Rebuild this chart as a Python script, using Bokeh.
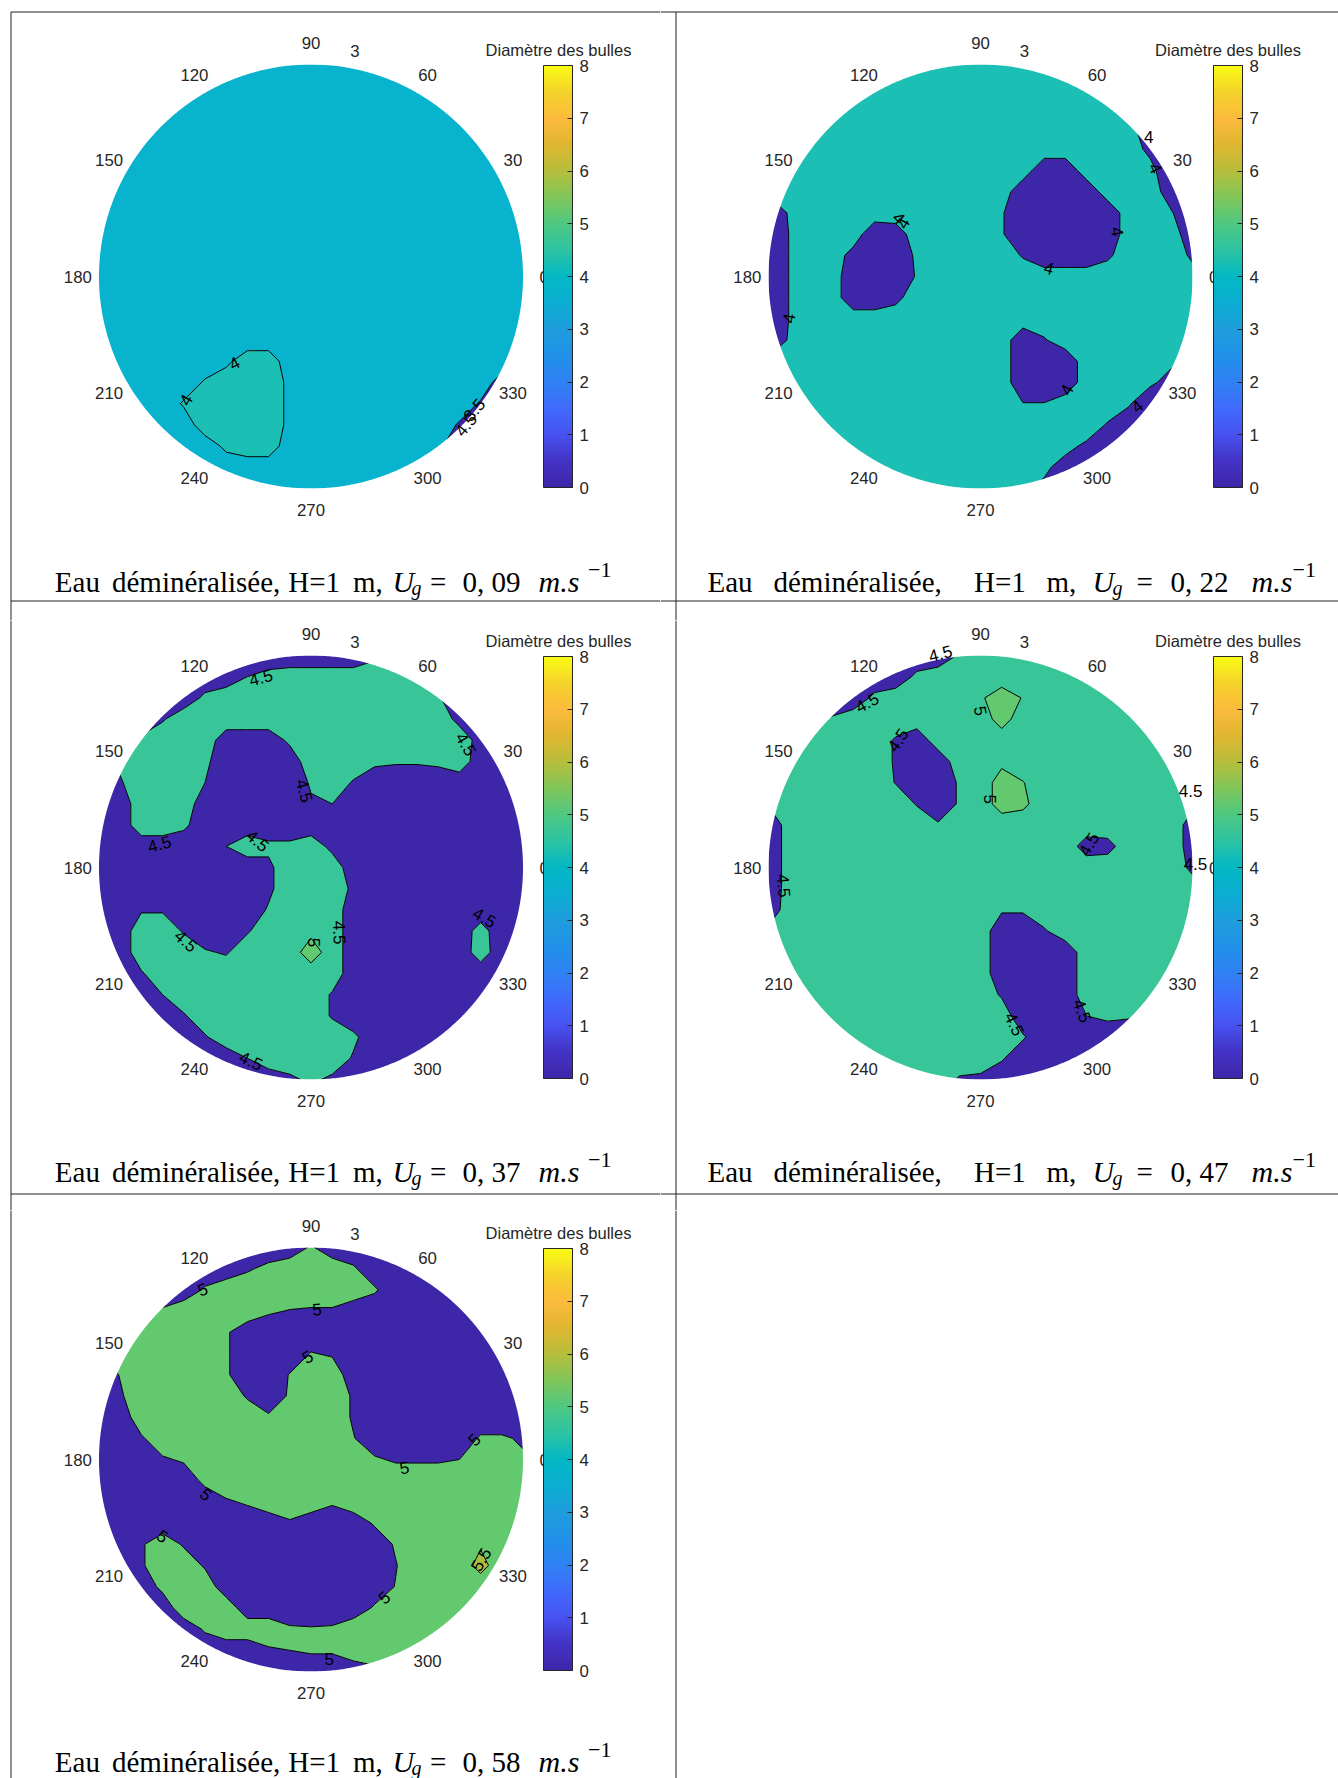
import numpy as np
from bokeh.plotting import figure
from bokeh.layouts import column, row
from bokeh.models import Range1d, ColorBar, LinearColorMapper, FixedTicker
from bokeh.core.properties import value
from bokeh.embed import file_html
from bokeh.resources import INLINE

# ------------------------------------------------------------------ data
GRID = [-1.0, -0.9, -0.8, -0.7, -0.6, -0.5, -0.4, -0.3, -0.2, -0.1, 0.0,
        0.1, 0.2, 0.3, 0.4, 0.5, 0.6, 0.7, 0.8, 0.9, 1.0]
ANGLE_TICKS = [0, 30, 60, 90, 120, 150, 180, 210, 240, 270, 300, 330]
RHO_LABEL = "3"
CBAR_TICKS = [0, 1, 2, 3, 4, 5, 6, 7, 8]
CBAR_TITLE = "Diamètre des bulles"
UG_VALUES = ["0, 09", "0, 22", "0, 37", "0, 47", "0, 58"]

# bubble diameter read on a grid (rows from y=+1 down to y=-1, columns x=-1..+1)
a, b = 3.75, 4.25
Z1 = [
 [a,a,a,a,a,a,a,a,a,a,a,a,a,a,a,a,a,a,a,a,a],
 [a,a,a,a,a,a,a,a,a,a,a,a,a,a,a,a,a,a,a,a,a],
 [a,a,a,a,a,a,a,a,a,a,a,a,a,a,a,a,a,a,a,a,a],
 [a,a,a,a,a,a,a,a,a,a,a,a,a,a,a,a,a,a,a,a,a],
 [a,a,a,a,a,a,a,a,a,a,a,a,a,a,a,a,a,a,a,a,a],
 [a,a,a,a,a,a,a,a,a,a,a,a,a,a,a,a,a,a,a,a,a],
 [a,a,a,a,a,a,a,a,a,a,a,a,a,a,a,a,a,a,a,a,a],
 [a,a,a,a,a,a,a,a,a,a,a,a,a,a,a,a,a,a,a,a,a],
 [a,a,a,a,a,a,a,a,a,a,a,a,a,a,a,a,a,a,a,a,a],
 [a,a,a,a,a,a,a,a,a,a,a,a,a,a,a,a,a,a,a,a,a],
 [a,a,a,a,a,a,a,a,a,a,a,a,a,a,a,a,a,a,a,a,a],
 [a,a,a,a,a,a,a,a,a,a,a,a,a,a,a,a,a,a,a,a,a],
 [a,a,a,a,a,a,a,a,a,a,a,a,a,a,a,a,a,a,a,a,a],
 [a,a,a,a,a,a,a,a,a,a,a,a,a,a,a,a,a,a,a,a,a],
 [a,a,a,a,a,a,3.9,b,b,a,a,a,a,a,a,a,a,a,a,a,a],
 [a,a,a,a,a,4.05,b,b,b,3.9,a,a,a,a,a,a,a,a,a,3.3,a],
 [a,a,a,a,4.05,b,b,b,b,3.9,a,a,a,a,a,a,a,a,3.45,3.0,a],
 [a,a,a,a,a,b,b,b,b,3.9,a,a,a,a,a,a,a,3.45,3.0,a,a],
 [a,a,a,a,a,a,4.1,b,b,a,a,a,a,a,a,a,3.6,3.2,a,a,a],
 [a,a,a,a,a,a,a,a,a,a,a,a,a,a,a,a,a,a,a,a,a],
 [a,a,a,a,a,a,a,a,a,a,a,a,a,a,a,a,a,a,a,a,a],
]

t, d = 4.3, 3.6
Z2 = [
 [t,t,t,t,t,t,t,t,t,t,t,t,t,t,t,t,t,t,t,t,t],
 [t,t,t,t,t,t,t,t,t,t,t,t,t,t,t,t,t,t,t,t,t],
 [t,t,t,t,t,t,t,t,t,t,t,t,t,t,t,t,t,4.1,4.0,3.9,d],
 [t,t,t,t,t,t,t,t,t,t,t,t,t,t,t,t,t,4.2,d,d,d],
 [t,t,t,t,t,t,t,t,t,t,t,t,t,t,t,t,t,t,3.85,3.5,3.5],
 [t,t,t,t,t,t,t,t,t,t,t,t,t,d,d,t,t,t,4.2,3.5,3.5],
 [t,t,t,t,t,t,t,t,t,t,t,t,d,d,d,d,t,t,t,3.7,3.5],
 [3.0,4.15,t,t,t,t,t,t,t,t,t,4.05,d,d,d,d,d,t,t,4.05,3.5],
 [3.0,4.05,t,t,t,d,3.7,t,t,t,t,4.05,d,d,d,d,d,t,t,t,3.6],
 [3.0,4.05,t,t,3.8,d,d,4.1,t,t,t,t,3.95,d,d,d,3.9,t,t,t,3.9],
 [3.0,4.05,t,t,d,d,d,4.05,t,t,t,t,t,t,t,t,t,t,t,t,4.2],
 [3.0,4.05,t,t,d,d,3.85,t,t,t,t,t,t,t,t,t,t,t,t,t,t],
 [3.0,4.05,t,t,t,t,t,t,t,t,t,t,t,t,t,t,t,t,t,t,t],
 [3.0,4.15,t,t,t,t,t,t,t,t,t,t,d,3.95,t,t,t,t,t,t,t],
 [t,t,t,t,t,t,t,t,t,t,t,t,d,d,d,t,t,t,t,4.1,4.1],
 [t,t,t,t,t,t,t,t,t,t,t,t,d,d,d,t,t,t,4.1,3.8,3.6],
 [t,t,t,t,t,t,t,t,t,t,t,t,4.02,4.02,t,t,t,4.05,d,d,d],
 [t,t,t,t,t,t,t,t,t,t,t,t,t,t,t,t,3.95,3.7,d,d,d],
 [t,t,t,t,t,t,t,t,t,t,t,t,t,t,4.15,3.9,d,d,d,d,d],
 [t,t,t,t,t,t,t,t,t,t,t,t,t,4.1,3.8,d,d,d,d,d,d],
 [t,t,t,t,t,t,t,t,t,t,t,t,4.05,3.9,d,d,d,d,d,d,d],
]

d, g = 4.2, 4.8
Z3 = [
 [d,d,d,d,d,d,d,4.1,4.1,4.1,4.1,4.1,4.1,4.4,g,g,4.6,d,d,d,d],
 [d,d,d,d,d,d,d,4.5,4.7,g,g,g,g,g,g,g,g,4.5,d,d,d],
 [d,d,d,d,d,4.6,g,g,g,g,g,g,g,g,g,g,4.55,d,d,d,d],
 [d,d,d,4.45,g,g,g,g,g,g,g,g,g,g,g,g,g,4.35,d,d,d],
 [d,4.6,4.6,g,g,g,d,d,d,4.6,g,g,g,g,g,g,g,g,4.3,d,d],
 [d,4.6,g,g,g,4.6,d,d,d,d,g,g,g,4.6,4.55,4.55,4.6,g,d,d,d],
 [d,4.45,g,g,g,4.5,d,d,d,d,4.55,g,4.45,d,d,d,d,d,d,d,d],
 [d,d,g,g,g,d,d,d,d,d,4.45,4.5,d,d,d,d,d,d,d,d,d],
 [d,d,g,g,4.6,d,d,d,d,d,d,d,d,d,d,d,d,d,d,d,d],
 [d,d,d,d,d,d,4.5,g,4.6,4.6,g,4.35,d,d,d,d,d,d,d,d,d],
 [d,d,d,d,d,d,d,d,4.4,g,g,g,d,d,d,d,d,d,d,d,d],
 [d,d,d,d,d,d,d,d,4.4,g,g,g,4.4,d,d,d,d,d,d,d,d],
 [d,d,4.45,4.45,d,d,d,d,4.55,g,g,g,d,d,d,d,d,d,d,d,d],
 [d,d,g,g,4.45,d,d,4.45,g,g,4.9,g,d,d,d,d,d,d,4.7,d,d],
 [d,d,g,g,g,4.55,4.45,g,g,g,5.2,g,d,d,d,d,d,d,4.75,d,d],
 [d,d,4.45,g,g,g,g,g,g,g,g,g,d,d,d,d,d,d,d,d,d],
 [d,d,d,4.5,g,g,g,g,g,g,g,4.45,d,d,d,d,d,d,d,d,d],
 [d,d,d,d,4.45,g,g,g,g,g,g,4.45,d,d,d,d,d,d,d,d,d],
 [d,d,d,d,d,4.45,g,g,g,g,g,g,4.6,d,d,d,d,d,d,d,d],
 [d,d,d,d,d,d,d,4.5,g,g,g,g,4.45,d,d,d,d,d,d,d,d],
 [d,d,d,d,d,d,d,d,d,4.4,4.6,4.4,d,d,d,d,d,d,d,d,d],
]

t, d, g = 4.75, 4.2, 5.2
Z4 = [
 [d,d,d,d,d,d,d,d,d,4.55,t,t,t,t,t,t,t,t,t,t,t],
 [d,d,d,d,d,d,d,4.6,t,t,t,4.8,t,t,t,t,t,t,t,t,t],
 [4.6,4.6,4.5,d,d,4.6,t,t,t,t,4.95,g,4.98,t,t,t,t,t,t,t,t],
 [t,t,4.5,4.55,t,t,t,t,t,t,t,g,t,t,t,t,t,t,t,t,t],
 [t,t,t,t,t,t,4.45,d,t,t,t,t,t,t,t,t,t,t,t,t,t],
 [t,t,t,t,t,t,4.45,d,d,t,t,4.9,t,t,t,t,t,t,t,t,t],
 [t,t,t,t,t,t,4.48,d,d,4.55,t,g,5.02,t,t,t,t,t,t,t,t],
 [4.55,t,t,t,t,t,t,4.47,d,4.55,t,g,5.1,t,t,t,t,t,t,t,4.6],
 [4.1,t,t,t,t,t,t,t,4.55,t,t,t,t,t,t,t,t,t,t,t,4.3],
 [4.1,t,t,t,t,t,t,t,t,t,t,t,t,t,t,4.3,4.35,t,t,t,4.3],
 [4.1,t,t,t,t,t,t,t,t,t,t,t,t,t,t,t,t,t,t,t,4.4],
 [4.1,t,t,t,t,t,t,t,t,t,t,t,t,t,t,t,t,t,t,t,4.7],
 [4.2,t,t,t,t,t,t,t,t,t,t,4.55,4.55,t,t,t,t,t,t,t,t],
 [4.6,t,t,t,t,t,t,t,t,t,t,d,d,4.45,t,t,t,t,t,t,t],
 [t,t,t,t,t,t,t,t,t,t,t,d,d,d,d,t,t,t,t,t,t],
 [t,t,t,t,t,t,t,t,t,t,t,d,d,d,d,t,t,t,t,t,t],
 [t,t,t,t,t,t,t,t,t,t,t,4.45,d,d,d,t,t,t,t,t,t],
 [t,t,t,t,t,t,t,t,t,t,t,t,d,d,d,4.5,4.6,4.55,t,t,t],
 [t,t,t,t,t,t,t,t,t,t,t,t,4.55,d,d,d,d,d,4.5,t,t],
 [t,t,t,t,t,t,t,t,t,t,t,4.55,d,d,d,d,d,d,d,4.5,t],
 [t,t,t,t,t,t,t,t,t,4.45,4.4,d,d,d,d,d,d,d,d,4.5,t],
]

d, g = 4.75, 5.25
Z5 = [
 [d,d,d,d,d,d,d,d,d,d,5.05,d,d,d,d,d,d,d,d,d,d],
 [d,d,d,d,d,d,d,4.95,5.1,g,g,g,5.05,d,d,d,d,d,d,d,d],
 [d,d,d,d,d,5.05,g,g,g,g,g,g,g,5.05,d,d,d,d,d,d,d],
 [5.1,5.1,5.1,5.05,g,g,g,g,5.05,4.98,4.95,4.95,d,d,d,d,d,d,d,d,d],
 [5.1,5.1,g,g,g,g,5.05,d,d,d,d,d,d,d,d,d,d,d,d,d,d],
 [5.0,g,g,g,g,g,5.05,d,d,d,5.02,4.95,d,d,d,d,d,d,d,d,d],
 [d,5.02,g,g,g,g,5.05,d,d,5.02,g,g,d,d,d,d,d,d,d,d,d],
 [d,4.95,g,g,g,g,g,4.95,d,5.05,g,g,4.95,d,d,d,d,d,d,d,d],
 [d,d,g,g,g,g,g,g,5.05,g,g,g,4.95,d,d,d,d,d,d,d,d],
 [d,d,4.95,g,g,g,g,g,g,g,g,g,5.02,d,d,d,d,d,5.05,5.05,4.95],
 [d,d,d,4.95,5.05,g,g,g,g,g,g,g,g,5.05,4.95,4.95,4.95,5.0,g,g,5.05],
 [d,d,d,d,d,5.1,g,g,g,g,g,g,g,g,g,g,g,g,g,g,g],
 [d,d,d,d,d,d,4.95,5.05,g,g,g,5.05,g,g,g,g,g,g,g,g,g],
 [d,d,d,d,d,d,d,d,d,4.95,d,d,d,5.05,g,g,g,g,g,g,g],
 [d,d,4.95,g,4.95,d,d,d,d,d,d,d,d,d,5.05,g,g,g,5.45,g,g],
 [d,d,4.95,g,g,4.95,d,d,d,d,d,d,d,d,4.98,g,g,g,5.65,g,g],
 [d,d,d,5.1,g,g,d,d,d,d,d,d,d,d,5.02,g,g,g,g,g,g],
 [d,d,d,d,g,g,g,d,d,d,d,d,d,5.05,g,g,g,g,g,g,g],
 [d,d,d,d,d,5.05,g,g,g,5.05,5.03,5.05,g,g,g,g,g,g,g,g,g],
 [d,d,d,d,d,d,d,d,4.95,5.0,5.05,5.05,g,g,g,g,g,g,g,g,g],
 [d,d,d,d,d,d,d,d,d,d,d,d,d,4.9,5.1,5.1,5.1,5.1,5.1,5.1,5.1],
]

LEVELS_1 = [0, 3.5, 4.0, 4.5, 8]
LEVELS_2 = [0, 4.0, 4.5, 8]
LEVELS_3 = [0, 4.5, 5.0, 5.5, 8]
LEVELS_4 = [0, 4.5, 5.0, 8]
LEVELS_5 = [0, 5.0, 5.5, 8]

# contour labels: x, y (unit circle), text, angle (deg)
LABELS_1 = [(-0.362, -0.409, "4", 28), (-0.590, -0.582, "4", 60),
            (0.770, -0.629, "3.5", 50), (0.731, -0.700, "4.5", 50)]
LABELS_2 = [(0.794, 0.660, "4", 0), (0.825, 0.511, "4", -65), (0.645, 0.212, "4", -80),
            (0.322, 0.039, "4", -15), (-0.385, 0.275, "4", -45), (-0.365, 0.252, "4", 60),
            (-0.904, -0.197, "4", 80), (0.406, -0.535, "4", 60), (0.739, -0.613, "4", 39)]
LABELS_3 = [(-0.236, 0.896, "4.5", 15), (0.731, 0.582, "4.5", -60), (-0.031, 0.362, "4.5", -75),
            (-0.715, 0.110, "4.5", 15), (-0.252, 0.126, "4.5", -40), (0.134, -0.307, "4.5", -88),
            (-0.590, -0.346, "4.5", -42), (-0.283, -0.912, "4.5", -25), (0.818, -0.236, "4.5", -30),
            (0.016, -0.354, "5", -90)]
LABELS_4 = [(-0.189, 1.009, "4.5", 15), (-0.535, 0.778, "4.5", 28), (-0.390, 0.601, "4.5", 55),
            (0.0, 0.739, "5", -80), (0.044, 0.322, "5", -90), (0.511, 0.110, "4.5", 60),
            (0.991, 0.362, "4.5", 0), (1.014, 0.016, "4.5", 0), (-0.928, -0.086, "4.5", -85),
            (0.160, -0.739, "4.5", -65), (0.480, -0.676, "4.5", -70)]
LABELS_5 = [(-0.511, 0.802, "5", 20), (0.028, 0.708, "5", 5), (-0.016, 0.484, "5", 30),
            (0.770, 0.094, "5", 45), (0.440, -0.039, "5", 10), (-0.495, -0.165, "5", -40),
            (-0.700, -0.362, "5", -35), (0.346, -0.652, "5", 40), (0.086, -0.940, "5", 0),
            (0.802, -0.472, "5.5", 60)]

# ------------------------------------------------------------------ style
C_DARK, C_CYAN, C_TEAL = "#3E26A8", "#08B3CE", "#1BBFB4"
C_SEA, C_GREEN, C_OLIVE = "#38C698", "#62C96E", "#A9BF3C"
FILLS_1 = [C_DARK, C_CYAN, C_TEAL, C_SEA]
FILLS_2 = [C_DARK, C_TEAL, C_SEA]
FILLS_3 = [C_DARK, C_SEA, C_GREEN, C_OLIVE]
FILLS_4 = [C_DARK, C_SEA, C_GREEN]
FILLS_5 = [C_DARK, C_GREEN, C_OLIVE]

PARULA_ANCHORS = ["#3E26A8", "#4333C6", "#4752F0", "#406BFC", "#2F82F4", "#2191E8",
                  "#1E9EDC", "#0BAED2", "#03B8C4", "#2DC3A3", "#4DC881", "#80C65A",
                  "#B5BE3C", "#DFB630", "#FCBA3D", "#F5D22B", "#F9FB15"]


def _rgb(h):
    return [int(h[i:i + 2], 16) for i in (1, 3, 5)]


_anc = np.array([_rgb(c) for c in PARULA_ANCHORS], dtype=float)
_pos = np.linspace(0, 1, len(_anc))
PARULA = ["#%02x%02x%02x" % tuple(int(round(np.interp(s, _pos, _anc[:, k]))) for k in range(3))
          for s in np.linspace(0, 1, 256)]

TXT = "#262626"
SANS = value("Liberation Sans")
SERIF = value("Liberation Serif")

R = 212.0                      # circle radius in px
COL_X0 = [0, 660]
COL_W = [660, 678]
ROW_Y0 = [0, 620, 1210]
ROW_H = [620, 590, 568]
CX = [310.5, 980.0]
CY = [276.0, 867.0, 1459.0]
CAP_BASE = [581, 1171, 1761]
H_LINES = [11.5, 600.5, 1193.5]
V_LINES = [10.5, 675.5]

CAP_PIECES = ["Eau", "déminéralisée,", "H=1", "m,", "U", "g", "=", None, "m.s", "−1"]
CAP_STYLE = ["normal", "normal", "normal", "normal", "italic", "italic", "normal", "normal", "italic", "normal"]
CAP_SIZE = [29, 29, 29, 29, 30, 20, 29, 29, 30, 22]
CAP_DY = [0, 0, 0, 0, 0, 6, 0, 0, 0, -12]
CAP_X = [[-256.2, -199.0, -22.7, 42.0, 81.6, 100.5, 119.0, 151.5, 227.5, 277.0],
         [-273.0, -207.0, -6.5, 66.0, 112.0, 132.0, 156.0, 190.0, 271.0, 312.0]]

PANELS = [
    (0, 0, Z1, LEVELS_1, FILLS_1, LABELS_1, UG_VALUES[0]),
    (1, 0, Z2, LEVELS_2, FILLS_2, LABELS_2, UG_VALUES[1]),
    (0, 1, Z3, LEVELS_3, FILLS_3, LABELS_3, UG_VALUES[2]),
    (1, 1, Z4, LEVELS_4, FILLS_4, LABELS_4, UG_VALUES[3]),
    (0, 2, Z5, LEVELS_5, FILLS_5, LABELS_5, UG_VALUES[4]),
    (1, 2, None, None, None, None, None),
]


def make_cell(col, rw, Z, levels, fills, labels, ug):
    X0, W = COL_X0[col], COL_W[col]
    Y0, H = ROW_Y0[rw], ROW_H[rw]
    cx, cy = CX[col], CY[rw]

    def P(px, py):
        return (px - cx) / R, (cy - py) / R

    x_start, y_end = P(X0, Y0)
    x_end, y_start = P(X0 + W, Y0 + H)
    p = figure(width=W, height=H, x_range=Range1d(x_start, x_end), y_range=Range1d(y_start, y_end),
               output_backend="svg", toolbar_location=None, min_border=0,
               x_axis_location=None, y_axis_location=None, outline_line_color=None,
               background_fill_color="white", border_fill_color="white")
    p.grid.visible = False

    if Z is not None:
        zz = np.array(Z[::-1], dtype=float)
        p.contour(x=GRID, y=GRID, z=zz, levels=levels, fill_color=fills,
                  line_color="black", line_width=1.0)
        # white mask outside the unit circle
        th = np.linspace(0, 2 * np.pi, 721)
        outer_x = [-1.3, 1.3, 1.3, -1.3]
        outer_y = [-1.3, -1.3, 1.3, 1.3]
        p.multi_polygons(xs=[[[outer_x, list(np.cos(th))]]], ys=[[[outer_y, list(np.sin(th))]]],
                         fill_color="white", line_color=None)

        # contour labels
        p.text(x=[l[0] for l in labels], y=[l[1] for l in labels], text=[l[2] for l in labels],
               angle=[l[3] for l in labels], angle_units="deg",
               text_font=SANS, text_font_size=value("17px"), text_color="black",
               text_align="center", text_baseline="middle")

        # polar angle labels
        ang = np.deg2rad(ANGLE_TICKS)
        p.text(x=1.10 * np.cos(ang), y=1.10 * np.sin(ang), text=[str(v) for v in ANGLE_TICKS],
               text_font=SANS, text_font_size=value("16.8px"), text_color=TXT,
               text_align="center", text_baseline="middle")
        rx, ry = P(cx + 44, cy - 225.4)
        p.text(x=[rx], y=[ry], text=[RHO_LABEL], text_font=SANS, text_font_size=value("16.8px"),
               text_color=TXT, text_align="center", text_baseline="middle")

        # colour bar title
        tx, ty = P(cx + 247.5, cy - 226.7)
        p.text(x=[tx], y=[ty], text=[CBAR_TITLE], text_font=SANS, text_font_size=value("16.5px"),
               text_color=TXT, text_align="center", text_baseline="middle")

        # caption
        base = CAP_BASE[rw]
        for k, piece in enumerate(CAP_PIECES):
            txt = ug if piece is None else piece
            ux, uy = P(cx + CAP_X[col][k], base + CAP_DY[k])
            p.text(x=[ux], y=[uy], text=[txt], text_font=SERIF,
                   text_font_size=value("%.1fpx" % CAP_SIZE[k]), text_font_style=CAP_STYLE[k],
                   text_color="black", text_align="left", text_baseline="alphabetic")

        mapper = LinearColorMapper(palette=PARULA, low=0, high=8)
        loc = (int(round(cx + 232.8 - X0)), int(round(Y0 + H - (cy + 210.7))))
        cb = ColorBar(color_mapper=mapper, location=loc, orientation="vertical",
                      width=29, height=422, padding=0, margin=0,
                      ticker=FixedTicker(ticks=CBAR_TICKS), major_tick_in=5, major_tick_out=0,
                      major_tick_line_color=TXT, minor_tick_line_color=None,
                      bar_line_color=TXT, bar_line_width=1, label_standoff=7,
                      major_label_text_font="Liberation Sans", major_label_text_font_size="16.8px",
                      major_label_text_color=TXT, background_fill_color="white",
                      background_fill_alpha=1.0)
        p.add_layout(cb)

    # table rules
    for yl in H_LINES:
        if Y0 <= yl <= Y0 + H:
            x0d, yd = P(max(X0, V_LINES[0]), yl)
            x1d, _ = P(X0 + W, yl)
            p.segment(x0=[x0d], y0=[yd], x1=[x1d], y1=[yd], line_color="#222222", line_width=1)
    for xl in V_LINES:
        if X0 <= xl <= X0 + W:
            xd, y0d = P(xl, max(Y0, H_LINES[0]))
            _, y1d = P(xl, Y0 + H)
            p.segment(x0=[xd], y0=[y0d], x1=[xd], y1=[y1d], line_color="#222222", line_width=1)
    return p


cells = [make_cell(*pp) for pp in PANELS]
layout = column(row(cells[0], cells[1]), row(cells[2], cells[3]), row(cells[4], cells[5]))

open("out.html", "w").write(file_html(layout, INLINE))
